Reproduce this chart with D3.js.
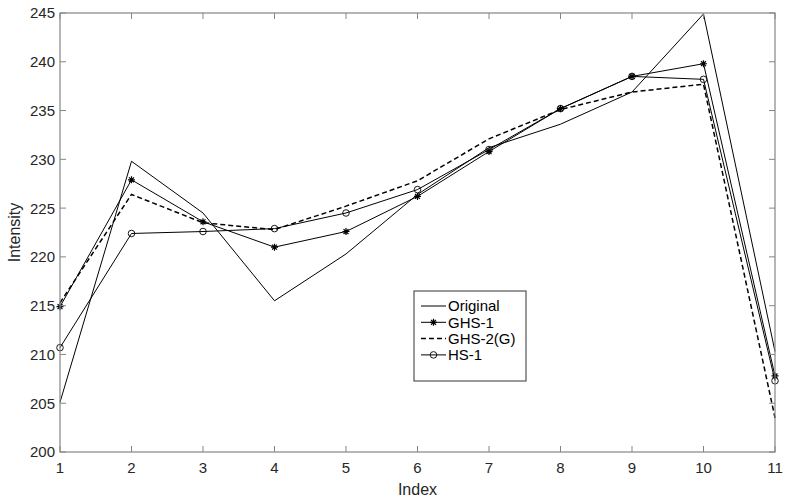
<!DOCTYPE html>
<html>
<head>
<meta charset="utf-8">
<script src="https://cdn.jsdelivr.net/npm/d3@7"></script>
<style>
  body { margin: 0; background: #fff; }
  text { font-family: "Liberation Sans", Arial, sans-serif; }
</style>
</head>
<body>
<svg id="chart"></svg>
<script>
// data
const indices = [1, 2, 3, 4, 5, 6, 7, 8, 9, 10, 11];
const original = [205.1, 229.8, 224.5, 215.5, 220.3, 226.4, 231.2, 233.6, 236.9, 244.9, 210.3];
const ghs1 = [214.9, 227.9, 223.6, 221.0, 222.6, 226.2, 230.8, 235.2, 238.5, 239.8, 207.8];
const ghs2 = [215.3, 226.4, 223.5, 222.8, 225.2, 227.8, 232.1, 235.1, 236.9, 237.7, 203.5];
const hs1 = [210.7, 222.4, 222.6, 222.9, 224.5, 226.9, 231.0, 235.2, 238.5, 238.2, 207.3];
const yTicks = [200, 205, 210, 215, 220, 225, 230, 235, 240, 245];
const seriesNames = ['Original', 'GHS-1', 'GHS-2(G)', 'HS-1'];

const width = 790, height = 498;
const margin = { top: 13, right: 15, bottom: 46, left: 60 };
const axisColor = '#858585';
const textColor = '#262626';

const svg = d3.select('#chart')
  .attr('width', width)
  .attr('height', height);

const x = d3.scaleLinear().domain([1, 11]).range([margin.left, width - margin.right]);
const y = d3.scaleLinear().domain([200, 245]).range([height - margin.bottom, margin.top]);

const series = [
  { name: seriesNames[0], values: original, dash: null, marker: null, w: 1 },
  { name: seriesNames[1], values: ghs1, dash: null, marker: 'star', w: 1 },
  { name: seriesNames[2], values: ghs2, dash: '5,3', marker: null, w: 1.5 },
  { name: seriesNames[3], values: hs1, dash: null, marker: 'circle', w: 1 },
];

const line = d3.line()
  .x((d, i) => x(indices[i]))
  .y(d => y(d));

const starPath = (s) => `M${-s},0L${s},0M0,${-s}L0,${s}M${-s * 0.7},${-s * 0.7}L${s * 0.7},${s * 0.7}M${-s * 0.7},${s * 0.7}L${s * 0.7},${-s * 0.7}`;

function drawMarker(g, type, cx, cy) {
  if (type === 'star') {
    g.append('path')
      .attr('d', starPath(3.5))
      .attr('transform', `translate(${cx},${cy})`)
      .attr('stroke', '#000')
      .attr('stroke-width', 1.2)
      .attr('fill', 'none');
  } else if (type === 'circle') {
    g.append('circle')
      .attr('cx', cx).attr('cy', cy).attr('r', 3.3)
      .attr('stroke', '#000')
      .attr('stroke-width', 0.9)
      .attr('fill', 'none');
  }
}

// lines
const plot = svg.append('g').attr('id', 'lines');
series.forEach(s => {
  plot.append('path')
    .datum(s.values)
    .attr('d', line)
    .attr('fill', 'none')
    .attr('stroke', '#000')
    .attr('stroke-width', s.w)
    .attr('stroke-dasharray', s.dash);
  if (s.marker) {
    s.values.forEach((v, i) => drawMarker(plot, s.marker, x(indices[i]), y(v)));
  }
});

// axes box
const axes = svg.append('g').attr('id', 'axes');
const x0 = margin.left, x1 = width - margin.right;
const y0 = height - margin.bottom, y1 = margin.top;
axes.append('rect')
  .attr('x', x0).attr('y', y1)
  .attr('width', x1 - x0).attr('height', y0 - y1)
  .attr('fill', 'none')
  .attr('stroke', axisColor)
  .attr('stroke-width', 1.2);

const tl = 6;
indices.forEach(t => {
  axes.append('line').attr('x1', x(t)).attr('x2', x(t)).attr('y1', y0).attr('y2', y0 - tl)
    .attr('stroke', axisColor);
  axes.append('line').attr('x1', x(t)).attr('x2', x(t)).attr('y1', y1).attr('y2', y1 + tl)
    .attr('stroke', axisColor);
  axes.append('text')
    .attr('x', x(t)).attr('y', y0 + 21)
    .attr('text-anchor', 'middle')
    .attr('font-size', 15)
    .attr('fill', textColor)
    .text(t);
});
yTicks.forEach(t => {
  axes.append('line').attr('x1', x0).attr('x2', x0 + tl).attr('y1', y(t)).attr('y2', y(t))
    .attr('stroke', axisColor);
  axes.append('line').attr('x1', x1).attr('x2', x1 - tl).attr('y1', y(t)).attr('y2', y(t))
    .attr('stroke', axisColor);
  axes.append('text')
    .attr('x', x0 - 5).attr('y', y(t))
    .attr('dy', '0.36em')
    .attr('text-anchor', 'end')
    .attr('font-size', 15)
    .attr('fill', textColor)
    .text(t);
});

// axis titles
svg.append('text')
  .attr('x', (x0 + x1) / 2).attr('y', 495)
  .attr('text-anchor', 'middle')
  .attr('font-size', 16)
  .attr('fill', textColor)
  .text('Index');
svg.append('text')
  .attr('transform', `translate(20,${(y0 + y1) / 2}) rotate(-90)`)
  .attr('text-anchor', 'middle')
  .attr('font-size', 16)
  .attr('fill', textColor)
  .text('Intensity');

// legend
const legend = svg.append('g').attr('id', 'legend');
legend.append('rect')
  .attr('x', 414).attr('y', 291)
  .attr('width', 112).attr('height', 90)
  .attr('fill', '#fff')
  .attr('stroke', '#333')
  .attr('stroke-width', 1);
series.forEach((s, i) => {
  const ly = 306 + i * 16.3;
  legend.append('line')
    .attr('x1', 421).attr('x2', 446).attr('y1', ly).attr('y2', ly)
    .attr('stroke', '#000')
    .attr('stroke-width', s.w)
    .attr('stroke-dasharray', s.dash);
  if (s.marker) drawMarker(legend, s.marker, 433.5, ly);
  legend.append('text')
    .attr('x', 448).attr('y', ly)
    .attr('dy', '0.36em')
    .attr('font-size', 15)
    .attr('fill', '#000')
    .text(s.name);
});
</script>
</body>
</html>
